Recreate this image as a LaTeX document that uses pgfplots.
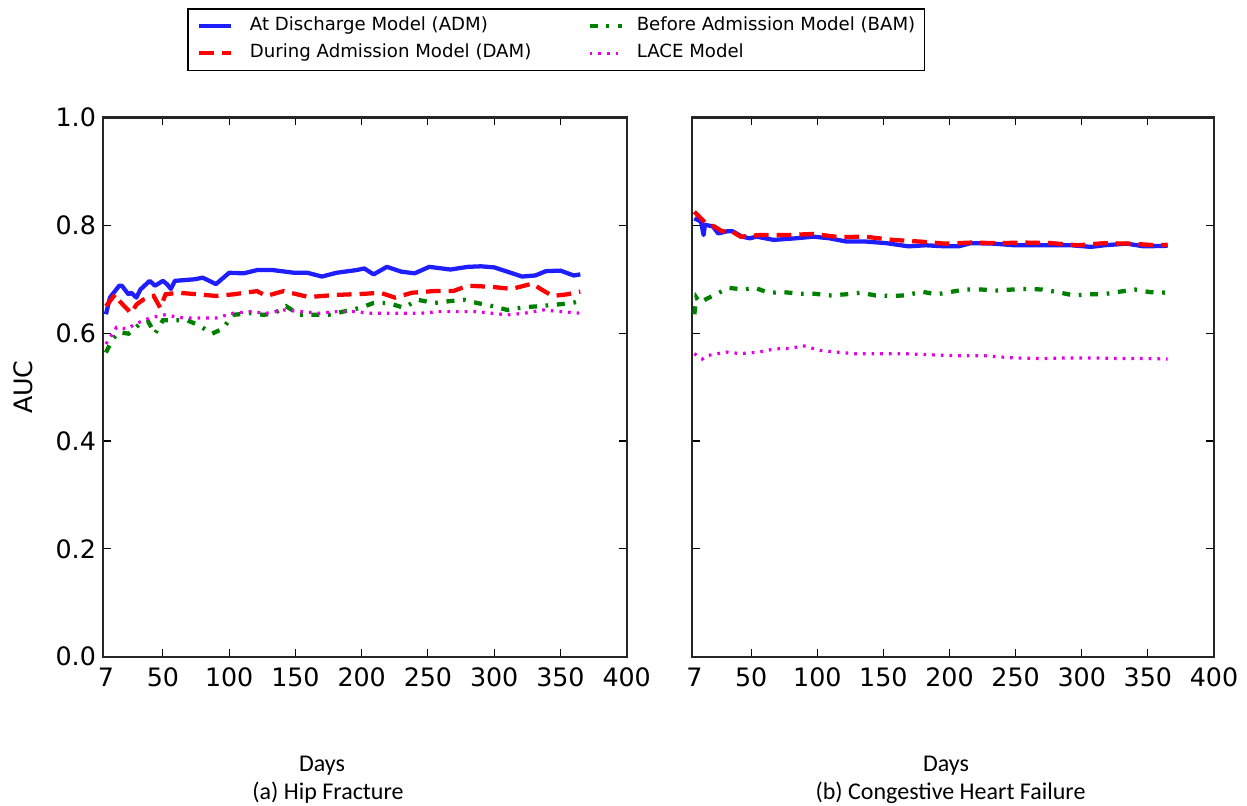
\documentclass[border=0pt]{standalone}
\usepackage{pgfplots}
\pgfplotsset{compat=1.18}
\usepackage{fontspec}
\setmainfont{DejaVu Sans}
\newfontfamily\calibri{Carlito}

\definecolor{admblue}{RGB}{30,30,255}
\definecolor{damred}{RGB}{255,0,0}
\definecolor{bamgreen}{RGB}{0,128,0}
\definecolor{lacemag}{RGB}{230,0,230}

% AUC over follow-up window, hip fracture cohort
\pgfplotstableread{
day auc
7 0.635
10 0.666
17 0.688
19 0.688
24 0.672
26 0.675
30 0.666
33 0.681
40 0.697
44 0.688
50 0.697
53 0.691
56 0.682
59 0.697
74 0.700
80 0.703
90 0.691
100 0.712
111 0.711
121 0.717
133 0.717
149 0.712
159 0.712
170 0.705
181 0.712
196 0.717
202 0.720
209 0.709
219 0.723
230 0.714
240 0.711
251 0.723
267 0.718
280 0.723
290 0.724
300 0.722
310 0.714
321 0.705
331 0.707
339 0.715
350 0.716
360 0.707
365 0.709
}\hipADM
\pgfplotstableread{
day auc
7 0.650
14 0.672
17 0.660
26 0.637
30 0.653
35 0.662
43 0.669
48 0.647
52 0.672
61 0.675
77 0.672
90 0.669
103 0.672
121 0.678
128 0.669
141 0.678
160 0.667
181 0.671
202 0.673
214 0.675
225 0.666
238 0.675
254 0.678
269 0.678
280 0.688
298 0.686
313 0.682
329 0.692
335 0.682
344 0.669
355 0.672
365 0.677
}\hipDAM
\pgfplotstableread{
day auc
7 0.564
12 0.589
17 0.602
24 0.599
33 0.618
39 0.621
44 0.599
50 0.624
59 0.624
68 0.624
77 0.615
87 0.599
95 0.608
103 0.634
116 0.637
126 0.634
134 0.637
143 0.650
153 0.634
165 0.634
175 0.634
199 0.647
209 0.656
220 0.656
232 0.647
242 0.662
255 0.656
265 0.659
277 0.662
287 0.656
299 0.650
310 0.643
322 0.648
334 0.650
347 0.653
359 0.656
365 0.660
}\hipBAM
\pgfplotstableread{
day auc
7 0.580
15 0.611
23 0.608
30 0.618
40 0.628
51 0.634
66 0.628
77 0.628
90 0.628
103 0.637
116 0.640
128 0.637
141 0.643
154 0.640
168 0.637
181 0.640
194 0.640
207 0.637
219 0.637
232 0.637
245 0.637
258 0.640
272 0.640
285 0.640
298 0.637
310 0.634
323 0.637
337 0.643
350 0.640
365 0.637
}\hipLACE

% AUC over follow-up window, congestive heart failure cohort
\pgfplotstableread{
day auc
7 0.813
12 0.807
14 0.782
15 0.801
21 0.798
25 0.785
32 0.789
36 0.789
43 0.779
49 0.776
54 0.779
67 0.773
84 0.776
97 0.779
109 0.776
122 0.770
136 0.770
152 0.767
169 0.761
182 0.763
197 0.761
207 0.761
216 0.767
234 0.766
249 0.763
272 0.763
292 0.763
307 0.760
317 0.763
334 0.766
347 0.761
365 0.762
}\chfADM
\pgfplotstableread{
day auc
7 0.825
12 0.813
17 0.801
22 0.798
28 0.789
35 0.789
42 0.779
56 0.782
77 0.782
97 0.784
117 0.778
136 0.779
157 0.773
177 0.770
197 0.766
216 0.768
236 0.767
257 0.768
277 0.767
297 0.763
317 0.767
337 0.766
357 0.763
365 0.764
}\chfDAM
\pgfplotstableread{
day auc
7 0.635
8.5 0.666
11 0.657
23 0.672
33 0.684
44 0.681
53 0.684
63 0.675
75 0.676
87 0.673
98 0.673
110 0.670
121 0.672
133 0.675
144 0.670
155 0.669
167 0.670
179 0.677
190 0.672
202 0.677
212 0.681
224 0.681
235 0.679
248 0.681
259 0.682
270 0.681
282 0.676
294 0.670
305 0.672
316 0.672
329 0.677
340 0.681
352 0.676
365 0.675
}\chfBAM
\pgfplotstableread{
day auc
7 0.562
13 0.552
16 0.558
31 0.565
42 0.562
56 0.565
68 0.571
81 0.572
89 0.577
102 0.568
114 0.565
128 0.562
145 0.562
165 0.562
185 0.560
206 0.558
227 0.558
249 0.554
269 0.553
289 0.554
308 0.554
328 0.553
348 0.553
365 0.552
}\chfLACE

\pgfplotsset{
  admstyle/.style={color=admblue, line width=3.2pt, solid, line join=round},
  damstyle/.style={color=damred, line width=3.2pt, dash pattern=on 11pt off 6pt},
  bamstyle/.style={color=bamgreen, line width=3.2pt, dash pattern=on 6pt off 6.5pt on 2pt off 6.5pt},
  lacestyle/.style={color=lacemag, line width=2.4pt, dash pattern=on 2pt off 4.5pt},
  panel/.style={
    scale only axis,
    width=392.55pt, height=404.4pt,
    xmin=5, xmax=400, ymin=0, ymax=1,
    xtick={50,100,150,200,250,300,350,400},
    extra x ticks={7}, extra x tick labels={7},
    extra x tick style={major tick length=0pt},
    ytick={0,0.2,0.4,0.6,0.8,1},
    yticklabel style={xshift=-2pt,
      /pgf/number format/fixed,
      /pgf/number format/fixed zerofill,
      /pgf/number format/precision=1},
    xticklabel style={yshift=-5pt},
    tick align=inside,
    major tick length=6pt,
    tick style={line width=0.8pt, black},
    axis line style={line width=1.7pt, black!85},
    tick label style={font=\fontsize{19}{21}\selectfont},
    /pgf/number format/assume math mode=true,
    clip=false,
    no markers,
    legend image code/.code={\draw[##1] (0pt,0pt) -- (24pt,0pt);},
  },
}

\begin{document}
\begin{tikzpicture}
\path[use as bounding box] (0,0) rectangle (935.25pt,604.5pt);

\begin{axis}[panel,
  at={(77.475pt,111.975pt)}, anchor=south west,
  ylabel={AUC},
  ylabel style={at={(axis description cs:-0.152,0.5)}, anchor=center, font=\fontsize{19}{21}\selectfont},
  legend columns=2,
  legend cell align=left,
  legend style={at={(axis description cs:0.16,1.203)}, anchor=north west,
    draw=black, line width=1.2pt, fill=white,
    font=\fontsize{13.6}{16}\selectfont,
    inner xsep=7pt, inner ysep=6.5pt,
    row sep=7.25pt,
    nodes={inner sep=0pt, text height=10pt, text depth=3pt},
    /tikz/column 1/.style={column sep=12.4pt},
    /tikz/column 2/.style={column sep=0pt},
    /tikz/column 3/.style={column sep=9.75pt},
  },
]
\addplot[admstyle] table[x=day,y=auc] {\hipADM};
\addlegendentry{\makebox[253.15pt][l]{At Discharge Model (ADM)}}
\addplot[bamstyle] table[x=day,y=auc] {\hipBAM};
\addlegendentry{Before Admission Model (BAM)}
\addplot[damstyle] table[x=day,y=auc] {\hipDAM};
\addlegendentry{\makebox[253.15pt][l]{During Admission Model (DAM)}}
\addplot[lacestyle] table[x=day,y=auc] {\hipLACE};
\addlegendentry{LACE Model}
\end{axis}

\begin{axis}[panel,
  at={(518.775pt,111.975pt)}, anchor=south west,
  width=391.7pt,
  yticklabels={},
]
\addplot[admstyle] table[x=day,y=auc] {\chfADM};
\addplot[bamstyle] table[x=day,y=auc] {\chfBAM};
\addplot[damstyle] table[x=day,y=auc] {\chfDAM};
\addplot[lacestyle] table[x=day,y=auc] {\chfLACE};
\end{axis}

\node[font=\calibri\fontsize{18}{20}\selectfont] at (241.5pt,30.5pt) {Days};
\node[font=\calibri\fontsize{18}{20}\selectfont] at (246pt,9.8pt) {(a) Hip Fracture};
\node[font=\calibri\fontsize{18}{20}\selectfont] at (709.5pt,30.5pt) {Days};
\node[font=\calibri\fontsize{18}{20}\selectfont] at (712.9pt,9.8pt) {(b) Congestive Heart Failure};
\end{tikzpicture}
\end{document}
